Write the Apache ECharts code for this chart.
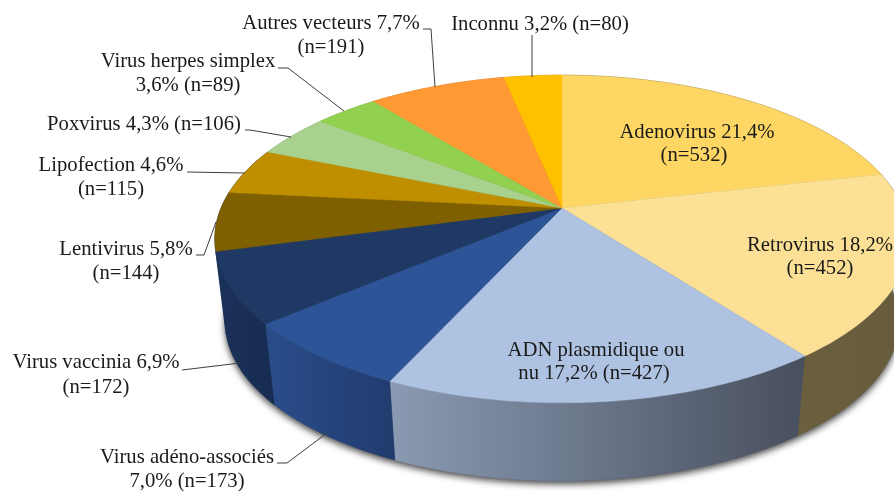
<!DOCTYPE html>
<html><head><meta charset="utf-8">
<style>html,body{margin:0;padding:0;background:#fff}#c{width:894px;height:491px}</style>
<script src="https://cdn.jsdelivr.net/npm/echarts@6/dist/echarts.min.js"></script>
</head><body><div id="c"></div>
<script>
// --- data ---
const categories = ['Adenovirus','Retrovirus','ADN plasmidique ou nu','Virus adéno-associés','Virus vaccinia','Lentivirus','Lipofection','Poxvirus','Virus herpes simplex','Autres vecteurs','Inconnu'];
const percents   = ['21,4','18,2','17,2','7,0','6,9','5,8','4,6','4,3','3,6','7,7','3,2'];
const counts     = [532,452,427,173,172,144,115,106,89,191,80];
// --- style ---
const topColors  = ['#fdd663','#fbe096','#aec2e1','#2c5496','#1f3864','#7f6000','#bf8f00','#a9d18e','#92d050','#ff9933','#ffc000'];
const wallFrom   = ['#6b5f3e','#6b5f3e','#8a9ab2','#2a4d8a','#1b3159','#1b3159','#1b3159','#7f9d6a','#6d9c3c','#bf7326','#bf9000'];
const wallTo     = ['#6b5f3e','#665b3c','#484f5e','#213b6e','#172c52','#1b3159','#1b3159','#7f9d6a','#6d9c3c','#bf7326','#bf9000'];
// --- layout: lines of each label (centre x, middle y) and leader polyline ---
const labelLines = [
  [['Adenovirus {p}%',697,133],['(n={n})',694,156]],
  [['Retrovirus {p}%',820,246],['(n={n})',820,269]],
  [['ADN plasmidique ou',596,351],['nu {p}% (n={n})',594,374]],
  [['Virus adéno-associés',187,458],['{p}% (n={n})',187,482]],
  [['Virus vaccinia {p}%',96,363],['(n={n})',96,388]],
  [['Lentivirus {p}%',126,250],['(n={n})',126,274]],
  [['Lipofection {p}%',111,166],['(n={n})',111,190]],
  [['Poxvirus {p}% (n={n})',144,125]],
  [['Virus herpes simplex',188,62],['{p}% (n={n})',188,86]],
  [['Autres vecteurs {p}%',331,24],['(n={n})',331,48]],
  [['Inconnu {p}% (n={n})',540,25]]
];
const leaders = [
  null,null,null,
  [[277,463],[287,463],[327,433]],
  [[182,370],[240,363]],
  [[196,255],[204,255],[216,222]],
  [[187,172],[245,173]],
  [[245,130],[250,130],[291,137]],
  [[278,68],[288,68],[344,111]],
  [[423,29],[431,29],[435,87]],
  [[532,35],[532,77]]
];
// projection of the tilted disc
const CX=562, CY=208, A=341, B=158, K=0.189, WALL_DY=84, WALL_S=0.97, FONT=20.7;
const total = counts.reduce((a,b)=>a+b,0);
function proj(frac, r, lower){
  const t=frac*2*Math.PI, u=Math.sin(t)*r, v=-Math.cos(t)*r, w=1-K*v;
  const s=lower?WALL_S:1, d=lower?WALL_DY:0;
  return [CX+s*A*u/w, CY+d+s*B*v/w];
}
function arc(f0,f1,lower){
  const n=Math.max(2,Math.ceil((f1-f0)*360)), out=[];
  for(let i=0;i<=n;i++) out.push(proj(f0+(f1-f0)*i/n,1,lower));
  return out;
}
const rows=[]; let acc=0;
counts.forEach((c,i)=>{rows.push([i,acc/total,(acc+c)/total]);acc+=c;});

function renderWall(params,api){
  const i=api.value(0),f0=api.value(1),f1=api.value(2);
  const a=arc(f0,f1,false), b=arc(f0,f1,true).reverse(), pts=a.concat(b);
  const xs=pts.map(p=>p[0]); const x0=Math.min(...xs), x1=Math.max(...xs);
  // the wall shades from the left edge to the right edge on screen
  const fill={type:'linear',global:true,x:x0,y:0,x2:x1,y2:0,colorStops:[{offset:0,color:wallFrom[i]},{offset:1,color:wallTo[i]}]};
  const children=[];
  if(i===0){
    children.push({type:'polygon',shape:{points:arc(0,1,true)},z2:0,silent:true,
      style:{fill:'#555',shadowBlur:7,shadowColor:'rgba(0,0,0,0.75)',shadowOffsetY:3}});
  }
  children.push({type:'polygon',shape:{points:pts},z2:1+i,style:{fill:fill,stroke:fill,lineWidth:0.5}});
  return {type:'group',children};
}
function renderTop(params,api){
  const i=api.value(0),f0=api.value(1),f1=api.value(2);
  const pts=[[CX,CY]].concat(arc(f0,f1,false));
  return {type:'polygon',shape:{points:pts},style:{fill:topColors[i],stroke:topColors[i],lineWidth:0.4}};
}
function renderLabel(params,api){
  const i=api.value(0), children=[];
  labelLines[i].forEach(l=>{
    children.push({type:'text',style:{
      text:l[0].replace('{p}',percents[i]).replace('{n}',counts[i]),
      x:l[1],y:l[2],align:'center',verticalAlign:'middle',
      font:FONT+'px "Liberation Serif"',fill:'#1a1a1a'}});
  });
  if(leaders[i]) children.push({type:'polyline',shape:{points:leaders[i]},style:{fill:null,stroke:'#3f3f3f',lineWidth:1}});
  return {type:'group',children};
}
const chart=echarts.init(document.getElementById('c'),null,{renderer:'canvas'});
chart.setOption({
  animation:false,
  backgroundColor:'#ffffff',
  series:[
    {type:'custom',coordinateSystem:'none',name:'walls',z:1,data:rows,renderItem:renderWall,silent:true},
    {type:'custom',coordinateSystem:'none',name:'parts',z:2,data:rows,renderItem:renderTop,silent:true},
    {type:'custom',coordinateSystem:'none',name:'labels',z:3,data:rows,renderItem:renderLabel,silent:true}
  ]
});
</script></body></html>
